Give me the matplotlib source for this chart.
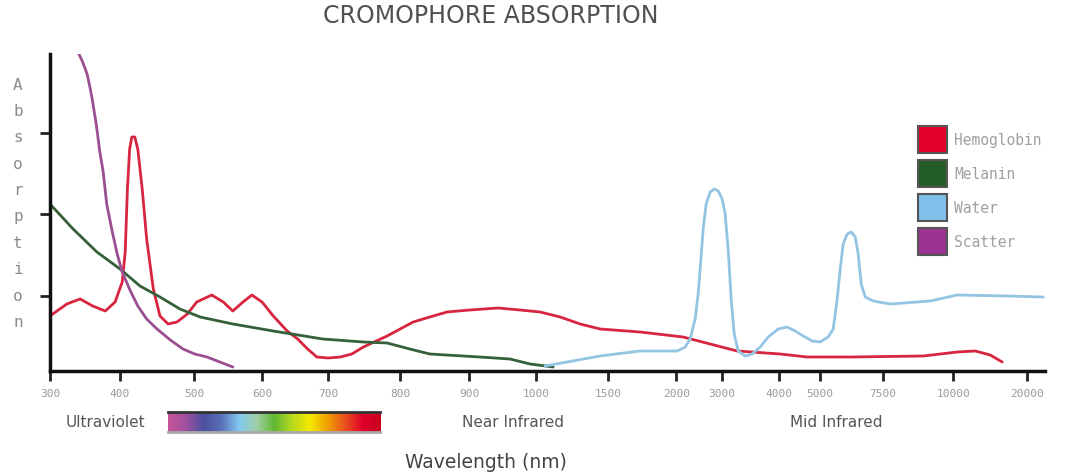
import numpy as np
import matplotlib
matplotlib.use("Agg")
import matplotlib.pyplot as plt
from matplotlib.patches import Patch
from matplotlib.colors import LinearSegmentedColormap

# ---- data (wavelength in nm, absorption in arbitrary units) ----
hemo_wl = [300, 324, 343, 361, 379, 393, 403, 407, 410, 413, 416, 420, 424, 430, 436, 445,
           454, 465, 477, 491, 504, 526, 543, 557, 572, 585, 600, 617, 638, 654, 669, 683,
           700, 717, 733, 749, 782, 819, 843, 868, 901, 943, 976, 1028, 1167, 1306, 1444,
           1735, 2152, 2739, 3263, 4024, 4683, 6190, 8930, 10540, 12970, 15000, 16620]
hemo_abs = [0.55, 0.67, 0.72, 0.65, 0.60, 0.69, 0.89, 1.19, 1.82, 2.22, 2.34, 2.34, 2.22, 1.82,
            1.32, 0.82, 0.55, 0.47, 0.49, 0.57, 0.69, 0.76, 0.69, 0.60, 0.69, 0.76, 0.69, 0.55,
            0.40, 0.32, 0.22, 0.14, 0.13, 0.14, 0.17, 0.24, 0.35, 0.49, 0.54, 0.59, 0.61, 0.63,
            0.61, 0.59, 0.54, 0.47, 0.42, 0.39, 0.34, 0.27, 0.20, 0.17, 0.14, 0.14, 0.15, 0.19,
            0.20, 0.16, 0.09]

melanin_wl = [300, 333, 367, 400, 427, 454, 481, 509, 557, 617, 692, 749, 782, 814, 843, 916,
              961, 991, 1118]
melanin_abs = [1.67, 1.42, 1.19, 1.02, 0.85, 0.74, 0.62, 0.54, 0.47, 0.40, 0.32, 0.29, 0.28,
               0.22, 0.17, 0.14, 0.12, 0.07, 0.04]

water_wl = [1062, 1444, 1735, 2022, 2196, 2304, 2413, 2478, 2522, 2587, 2652, 2739, 2826, 2913,
            3000, 3053, 3105, 3158, 3211, 3281, 3404, 3526, 3667, 3807, 3982, 4195, 4390, 4585,
            4805, 5000, 5317, 5516, 5675, 5794, 5913, 6071, 6230, 6389, 6508, 6627, 6786, 7103,
            7750, 9179, 10540, 17300, 22160]
water_abs = [0.05, 0.15, 0.20, 0.20, 0.24, 0.32, 0.52, 0.77, 1.02, 1.42, 1.67, 1.79, 1.82, 1.80,
             1.72, 1.57, 1.22, 0.72, 0.37, 0.20, 0.15, 0.17, 0.24, 0.34, 0.42, 0.44, 0.40, 0.35,
             0.30, 0.29, 0.34, 0.42, 0.72, 1.02, 1.27, 1.37, 1.39, 1.34, 1.17, 0.87, 0.74, 0.70,
             0.67, 0.70, 0.76, 0.75, 0.74]

scatter_wl = [340, 346, 353, 357, 361, 366, 371, 376, 381, 389, 396, 403, 414, 424, 436, 450,
              468, 485, 501, 519, 538, 557]
scatter_abs = [3.19, 3.10, 2.97, 2.84, 2.69, 2.47, 2.20, 1.99, 1.67, 1.39, 1.17, 0.99, 0.80,
               0.65, 0.52, 0.42, 0.31, 0.22, 0.17, 0.14, 0.09, 0.04]

tick_wl = [300, 400, 500, 600, 700, 800, 900, 1000, 1500, 2000, 3000, 4000, 5000, 7500, 10000, 20000]
tick_labels = [str(t) for t in tick_wl]
legend_names = ["Hemoglobin", "Melanin", "Water", "Scatter"]
legend_colors = ["#e4002b", "#225c24", "#80bfe9", "#9c3391"]
spectrum_colors = ["#c8559a", "#a050a0", "#4b4fa0", "#5a70b8", "#80c8f0", "#a0d0a8",
                   "#60b830", "#b8d820", "#f5e800", "#f0a000", "#e85020", "#e0002a", "#c80020"]

# ---- non-uniform wavelength axis (piecewise linear, as in the drawing) ----
knot_px = np.array([50, 120, 194, 262, 328, 400, 469, 536, 608, 676, 722, 779, 820, 883, 953, 1027], float)
knot_wl = np.array(tick_wl, float)
slope_end = (knot_px[-1] - knot_px[-2]) / (knot_wl[-1] - knot_wl[-2])


def fwd(w):
    w = np.asarray(w, float)
    out = np.interp(w, knot_wl, knot_px)
    return np.where(w > knot_wl[-1], knot_px[-1] + (w - knot_wl[-1]) * slope_end, out)


def inv(p):
    p = np.asarray(p, float)
    out = np.interp(p, knot_px, knot_wl)
    return np.where(p > knot_px[-1], knot_wl[-1] + (p - knot_px[-1]) / slope_end, out)


W, H = 1076, 477
fig = plt.figure(figsize=(W / 100, H / 100), dpi=100)
ax = fig.add_axes([50 / W, 105 / H, 995 / W, 317 / H])
ax.set_xscale("function", functions=(fwd, inv))

line_kw = dict(lw=2.0, solid_joinstyle="round", solid_capstyle="round")
ax.plot(hemo_wl, hemo_abs, color="#d8253f", **line_kw)
ax.plot(melanin_wl, melanin_abs, color="#35603a", **line_kw)
ax.plot(water_wl, water_abs, color="#93c4e4", **line_kw)
ax.plot(scatter_wl, scatter_abs, color="#9a4f92", **line_kw)

ax.set_xlim(300, 22400)
ax.set_ylim(0, 3.17)
ax.set_xticks(tick_wl)
ax.set_xticklabels(tick_labels, family="DejaVu Sans Mono", fontsize=8, color="#9a9a9a")
ax.set_yticks([0.75, 1.57, 2.38])
ax.set_yticklabels([])
ax.tick_params(axis="both", direction="out", length=7, width=2, color="#222")
ax.tick_params(axis="x", pad=5)
for s in ["top", "right"]:
    ax.spines[s].set_visible(False)
for s in ["left", "bottom"]:
    ax.spines[s].set_linewidth(2.5)
    ax.spines[s].set_color("#111")

# legend
handles = [Patch(facecolor=c, edgecolor="#555", lw=1.5) for c in legend_colors]
leg = ax.legend(handles, legend_names, loc="upper left", bbox_to_anchor=(918 / W, 1 - 127 / H),
                bbox_transform=fig.transFigure, frameon=False, borderpad=0, borderaxespad=0,
                handlelength=2.0, handleheight=2.5, labelspacing=0.45, handletextpad=0.5,
                prop={"family": "DejaVu Sans Mono", "size": 10.5})
for t in leg.get_texts():
    t.set_color("#a0a0a0")

# title and labels
fig.text(491 / W, 1 - 16 / H, "CROMOPHORE ABSORPTION", ha="center", va="center",
         fontsize=17, color="#505050")
for i, ch in enumerate("Absorption"):
    fig.text(18 / W, 1 - (85 + i * 26.4) / H, ch, ha="center", va="center",
             family="DejaVu Sans Mono", fontsize=11.5, color="#8a8a8a")
fig.text(105 / W, 1 - 423 / H, "Ultraviolet", ha="center", va="center", fontsize=11, color="#555")
fig.text(513 / W, 1 - 423 / H, "Near Infrared", ha="center", va="center", fontsize=11, color="#555")
fig.text(836 / W, 1 - 423 / H, "Mid Infrared", ha="center", va="center", fontsize=11, color="#555")
fig.text(486 / W, 1 - 463 / H, "Wavelength (nm)", ha="center", va="center", fontsize=13.5, color="#444")

# visible spectrum strip
cax = fig.add_axes([168 / W, 44 / H, 212 / W, 20 / H])
cmap = LinearSegmentedColormap.from_list("spectrum", spectrum_colors)
cax.imshow(np.linspace(0, 1, 256)[None, :], aspect="auto", cmap=cmap)
cax.set_xticks([])
cax.set_yticks([])
for s in cax.spines.values():
    s.set_visible(False)
cax.spines["top"].set_visible(True)
cax.spines["top"].set_color("#333")
cax.spines["top"].set_linewidth(2)
cax.spines["bottom"].set_visible(True)
cax.spines["bottom"].set_color("#aaa")
cax.spines["bottom"].set_linewidth(2)

fig.savefig("out.png", dpi=100)
